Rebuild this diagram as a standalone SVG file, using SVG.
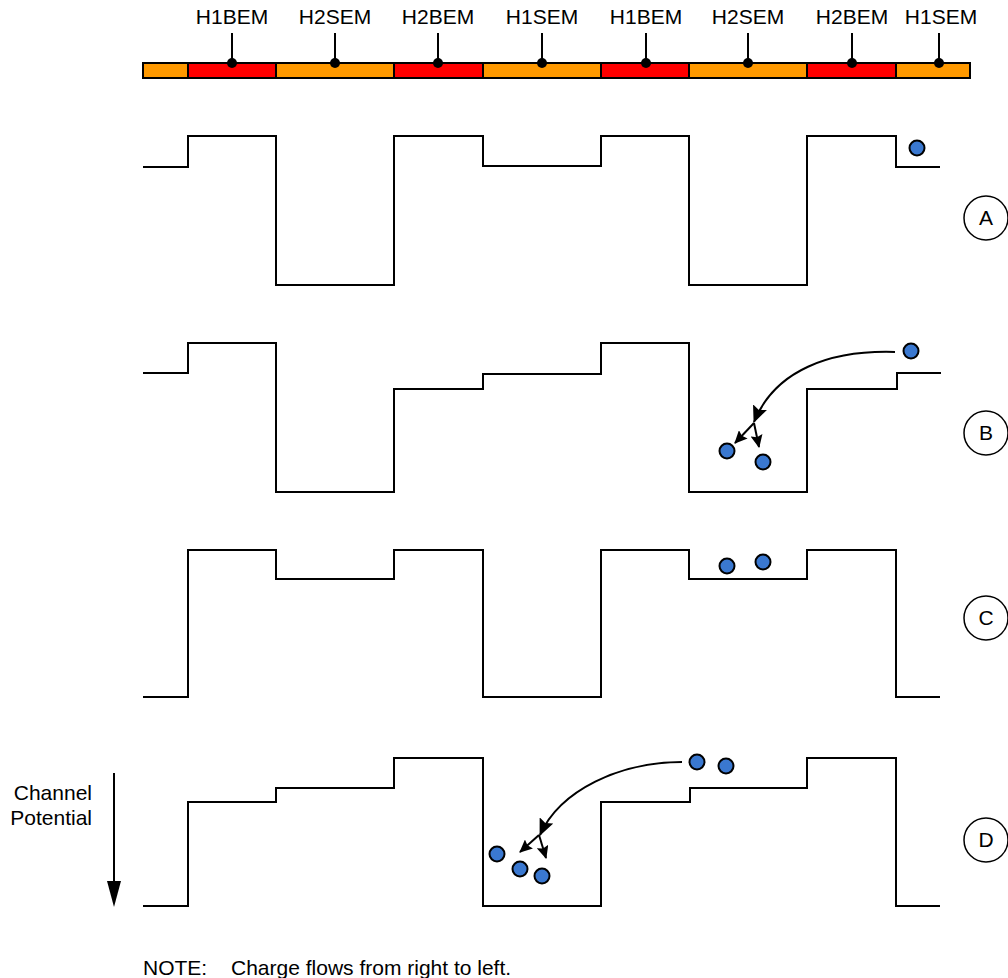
<svg xmlns="http://www.w3.org/2000/svg" width="1008" height="978" viewBox="0 0 1008 978">
<style>
text{font-family:"Liberation Sans",Arial,sans-serif;font-size:21px;fill:#000}
.seg{stroke:#000;stroke-width:2}
.o{fill:#ff9900}.r{fill:#ff0000}
.pin{stroke:#000;stroke-width:2}
.wave{fill:none;stroke:#000;stroke-width:2}
.ball{fill:#3a78d0;stroke:#000;stroke-width:2}
.lbl{fill:#fff;stroke:#000;stroke-width:1.5}
.flow{fill:none;stroke:#000;stroke-width:2}
</style>
<defs>
<marker id="big" viewBox="0 0 17 15" refX="16" refY="7.5" markerWidth="17" markerHeight="15" orient="auto" markerUnits="userSpaceOnUse"><path d="M0,0 L17,7.5 L0,15 L3,7.5 Z" fill="#000"/></marker>
<marker id="small" viewBox="0 0 13 12" refX="12" refY="6" markerWidth="13" markerHeight="12" orient="auto" markerUnits="userSpaceOnUse"><path d="M0,0 L13,6 L0,12 L2,6 Z" fill="#000"/></marker>
</defs>
<rect width="1008" height="978" fill="#fff"/>
<g id="bar">
<rect class="seg o" x="143" y="63" width="45" height="15"/>
<rect class="seg r" x="188" y="63" width="88" height="15"/>
<rect class="seg o" x="276" y="63" width="118" height="15"/>
<rect class="seg r" x="394" y="63" width="89" height="15"/>
<rect class="seg o" x="483" y="63" width="118" height="15"/>
<rect class="seg r" x="601" y="63" width="88" height="15"/>
<rect class="seg o" x="689" y="63" width="118" height="15"/>
<rect class="seg r" x="807" y="63" width="89" height="15"/>
<rect class="seg o" x="896" y="63" width="74" height="15"/>
</g>
<g id="pins">
<g id="pin1"><line class="pin" x1="232" y1="33" x2="232" y2="63"/><circle cx="232" cy="63" r="5"/><text x="232" y="24" text-anchor="middle">H1BEM</text></g>
<g id="pin2"><line class="pin" x1="335" y1="33" x2="335" y2="63"/><circle cx="335" cy="63" r="5"/><text x="335" y="24" text-anchor="middle">H2SEM</text></g>
<g id="pin3"><line class="pin" x1="438" y1="33" x2="438" y2="63"/><circle cx="438" cy="63" r="5"/><text x="438" y="24" text-anchor="middle">H2BEM</text></g>
<g id="pin4"><line class="pin" x1="542" y1="33" x2="542" y2="63"/><circle cx="542" cy="63" r="5"/><text x="542" y="24" text-anchor="middle">H1SEM</text></g>
<g id="pin5"><line class="pin" x1="646" y1="33" x2="646" y2="63"/><circle cx="646" cy="63" r="5"/><text x="646" y="24" text-anchor="middle">H1BEM</text></g>
<g id="pin6"><line class="pin" x1="748" y1="33" x2="748" y2="63"/><circle cx="748" cy="63" r="5"/><text x="748" y="24" text-anchor="middle">H2SEM</text></g>
<g id="pin7"><line class="pin" x1="852" y1="33" x2="852" y2="63"/><circle cx="852" cy="63" r="5"/><text x="852" y="24" text-anchor="middle">H2BEM</text></g>
<g id="pin8"><line class="pin" x1="939" y1="33" x2="939" y2="63"/><circle cx="939" cy="63" r="5"/><text x="941" y="24" text-anchor="middle">H1SEM</text></g>
</g>
<g id="waveA">
<path class="wave" d="M143,167 H188 V136 H276 V285 H394 V136 H483 V166 H601 V136 H689 V285 H807 V136 H896 V167 H940"/>
<circle class="ball" cx="917" cy="148" r="7.5"/>
</g>
<g id="waveB">
<path class="wave" d="M143,373 H188 V343 H276 V492 H394 V389 H483 V374 H601 V343 H689 V492 H807 V389 H897 V373 H941"/>
<circle class="ball" cx="911" cy="351" r="7.5"/>
<circle class="ball" cx="727" cy="451" r="7.5"/>
<circle class="ball" cx="763" cy="462" r="7.5"/>
</g>
<g id="waveC">
<path class="wave" d="M143,697 H188 V550 H276 V579 H394 V550 H483 V697 H601 V550 H689 V579 H807 V550 H896 V697 H940"/>
<circle class="ball" cx="727" cy="566" r="7.5"/>
<circle class="ball" cx="763" cy="562" r="7.5"/>
</g>
<g id="waveD">
<path class="wave" d="M143,906 H188 V802 H276 V788 H394 V758 H483 V906 H601 V802 H690 V788 H807 V758 H896 V906 H940"/>
<circle class="ball" cx="697" cy="762" r="7.5"/>
<circle class="ball" cx="726" cy="766" r="7.5"/>
<circle class="ball" cx="497" cy="854" r="7.5"/>
<circle class="ball" cx="520" cy="869" r="7.5"/>
<circle class="ball" cx="542" cy="876" r="7.5"/>
</g>
<g id="connectors">
<path class="flow" d="M895,352 C830,350 775,370 754,422" marker-end="url(#big)"/>
<path class="flow" d="M754,423 L735,443" marker-end="url(#small)"/>
<path class="flow" d="M754,423 L759,447" marker-end="url(#small)"/>
<path class="flow" d="M682,762 C620,762 560,790 540,835" marker-end="url(#big)"/>
<path class="flow" d="M539,835 L520,852" marker-end="url(#small)"/>
<path class="flow" d="M539,835 L546,858" marker-end="url(#small)"/>
</g>
<g id="labelA"><circle class="lbl" cx="986" cy="218" r="22"/><text x="986" y="225" text-anchor="middle">A</text></g>
<g id="labelB"><circle class="lbl" cx="986" cy="433" r="22"/><text x="986" y="440" text-anchor="middle">B</text></g>
<g id="labelC"><circle class="lbl" cx="986" cy="618" r="22"/><text x="986" y="625" text-anchor="middle">C</text></g>
<g id="labelD"><circle class="lbl" cx="986" cy="840" r="22"/><text x="986" y="847" text-anchor="middle">D</text></g>
<g id="potential">
<line x1="114" y1="773" x2="114" y2="885" stroke="#000" stroke-width="2"/>
<polygon points="107,881 121,881 114,907" fill="#000"/>
<text x="92" y="800" text-anchor="end">Channel</text>
<text x="92" y="825" text-anchor="end">Potential</text>
</g>
<g id="note">
<text x="143" y="975">NOTE:</text>
<text x="231" y="975">Charge flows from right to left.</text>
</g>
</svg>
